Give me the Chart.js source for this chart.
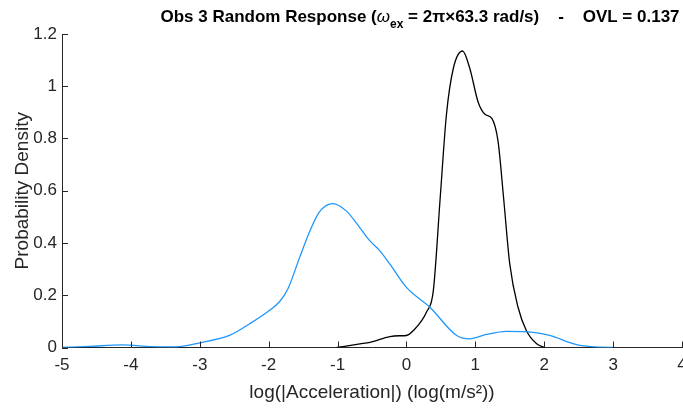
<!DOCTYPE html>
<html>
<head>
<meta charset="utf-8">
<script src="https://cdn.jsdelivr.net/npm/chart.js@4"></script>
<style>
  html, body { margin: 0; padding: 0; background: #fff; }
  #wrap { width: 683px; height: 412px; }
</style>
</head>
<body>
<div id="wrap"><canvas id="myChart" width="683" height="412"></canvas></div>
<script>
// blue curve: log accel vs density
const blueX = [-5, -4.6, -4.13, -3.7, -3.4, -3, -2.56, -2.27, -2, -1.84, -1.72, -1.55, -1.4, -1.26, -1.07, -0.87, -0.675, -0.53, -0.385, -0.24, 0, 0.34, 0.73, 0.92, 1.16, 1.45, 1.84, 2.08, 2.47, 2.75, 3]
const blueY = [0, 0.004, 0.01, 0.003, 0.002, 0.018, 0.047, 0.092, 0.14, 0.176, 0.225, 0.345, 0.447, 0.52, 0.551, 0.522, 0.458, 0.408, 0.37, 0.319, 0.23, 0.154, 0.046, 0.033, 0.05, 0.062, 0.058, 0.046, 0.011, 0.002, 0]
// black curve
const blackX = [-1.01, -0.675, -0.53, -0.24, -0.1, 0.0, 0.1, 0.29, 0.39, 0.49, 0.58, 0.68, 0.815, 0.92, 1.04, 1.14, 1.24, 1.33, 1.41, 1.5, 1.62, 1.74, 1.89, 2.01]
const blackY = [0, 0.014, 0.02, 0.042, 0.045, 0.046, 0.065, 0.135, 0.217, 0.573, 0.89, 1.068, 1.135, 1.068, 0.94, 0.893, 0.877, 0.789, 0.573, 0.319, 0.154, 0.065, 0.014, 0]

const xTicks = [-5, -4, -3, -2, -1, 0, 1, 2, 3, 4]
const yTicks = [0, 0.2, 0.4, 0.6, 0.8, 1, 1.2]

const toPts = (xs, ys) => xs.map((x, i) => ({x: x, y: ys[i]}))

const axisColor = '#262626'
const fontFam = '"Liberation Sans", Arial, Helvetica, sans-serif'

// inward ticks like matlab
const tickPlugin = {
    id: 'inTicks',
    afterDraw(chart) {
        const ctx = chart.ctx
        const xs = chart.scales.x, ys = chart.scales.y
        ctx.save()
        ctx.strokeStyle = axisColor
        ctx.lineWidth = 1
        ctx.beginPath()
        xTicks.forEach(v => {
            const px = Math.round(xs.getPixelForValue(v)) + 0.5
            ctx.moveTo(px, ys.bottom)
            ctx.lineTo(px, ys.bottom - 6)
        })
        yTicks.forEach(v => {
            const py = Math.round(ys.getPixelForValue(v)) + 0.5
            ctx.moveTo(xs.left, py)
            ctx.lineTo(xs.left + 6, py)
        })
        ctx.stroke()
        ctx.restore()
    }
}

// title with subscript
const titlePlugin = {
    id: 'subTitle',
    afterDraw(chart) {
        const ctx = chart.ctx
        ctx.save()
        ctx.fillStyle = '#000'
        ctx.textBaseline = 'alphabetic'
        const big = 'bold 17px ' + fontFam
        const small = 'bold 12px ' + fontFam
        const omega = 'italic 17px ' + fontFam
        const parts = [
            {t: 'Obs 3 Random Response (', f: big, dy: 0},
            {t: 'ω', f: omega, dy: 0},
            {t: 'ex', f: small, dy: 6},
            {t: ' = 2π×63.3 rad/s)    -    OVL = 0.137', f: big, dy: 0}
        ]
        let w = 0
        parts.forEach(p => { ctx.font = p.f; w += ctx.measureText(p.t).width })
        let x = 420 - w / 2
        parts.forEach(p => {
            ctx.font = p.f
            ctx.fillText(p.t, x, 22 + p.dy)
            x += ctx.measureText(p.t).width
        })
        ctx.restore()
    }
}

var ctx = document.getElementById('myChart')
var myChart = new Chart(ctx, {
    type: 'line',
    data: {
        datasets: [{
            label: 'response',
            data: toPts(blueX, blueY),
            borderColor: '#1f97ff',
            borderWidth: 1.3,
            pointRadius: 0,
            cubicInterpolationMode: 'monotone',
            fill: false
        }, {
            label: 'obs',
            data: toPts(blackX, blackY),
            borderColor: '#000000',
            borderWidth: 1.3,
            pointRadius: 0,
            cubicInterpolationMode: 'monotone',
            fill: false
        }]
    },
    options: {
        responsive: false,
        animation: false,
        events: [],
        layout: { padding: { left: 0, right: 1, top: 34, bottom: 0 } },
        plugins: {
            legend: { display: false },
            tooltip: { enabled: false },
            title: { display: false }
        },
        scales: {
            x: {
                type: 'linear',
                min: -5, max: 4,
                afterBuildTicks: s => { s.ticks = xTicks.map(v => ({value: v})) },
                afterFit: s => { s.height = 64.5; s.paddingLeft = 0; s.paddingRight = 0 },
                grid: { display: false, drawTicks: false },
                border: { display: true, color: axisColor, width: 1 },
                ticks: {
                    color: axisColor,
                    padding: 8,
                    maxRotation: 0,
                    font: { family: fontFam, size: 17 }
                },
                title: {
                    display: true,
                    text: 'log(|Acceleration|) (log(m/s²))',
                    color: axisColor,
                    padding: { top: 0, bottom: 8 },
                    font: { family: fontFam, size: 19 }
                }
            },
            y: {
                type: 'linear',
                min: 0, max: 1.2,
                afterBuildTicks: s => { s.ticks = yTicks.map(v => ({value: v})) },
                afterFit: s => { s.width = 62 },
                grid: { display: false, drawTicks: false },
                border: { display: true, color: axisColor, width: 1 },
                ticks: {
                    color: axisColor,
                    padding: 5,
                    font: { family: fontFam, size: 17 },
                    callback: v => String(Number(v.toFixed(2)))
                },
                title: {
                    display: true,
                    text: 'Probability Density',
                    color: axisColor,
                    padding: { top: 11, bottom: 0 },
                    font: { family: fontFam, size: 19 }
                }
            }
        }
    },
    plugins: [tickPlugin, titlePlugin]
});
</script>
</body>
</html>
